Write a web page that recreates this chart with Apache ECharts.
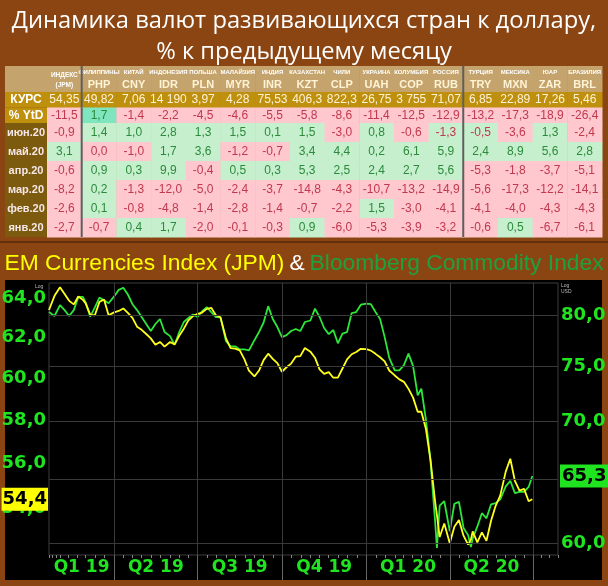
<!DOCTYPE html>
<html><head><meta charset="utf-8">
<script src="https://cdn.jsdelivr.net/npm/echarts@6.0.0/dist/echarts.min.js"></script>
<style>html,body{margin:0;padding:0;background:#8B4513;}#c{width:608px;height:586px;}</style>
</head><body><div id="c"></div>
<script>
// ---------- table data ----------
const countries = ['ИНДЕКС','ФИЛИППИНЫ','КИТАЙ','ИНДОНЕЗИЯ','ПОЛЬША','МАЛАЙЗИЯ','ИНДИЯ','КАЗАХСТАН','ЧИЛИ','УКРАИНА','КОЛУМБИЯ','РОССИЯ','ТУРЦИЯ','МЕКСИКА','ЮАР','БРАЗИЛИЯ'];
const codes = ['(JPM)','PHP','CNY','IDR','PLN','MYR','INR','KZT','CLP','UAH','COP','RUB','TRY','MXN','ZAR','BRL'];
const rates = [54.35, 49.82, 7.06, 14190, 3.97, 4.28, 75.53, 406.3, 822.3, 26.75, 3755, 71.07, 6.85, 22.89, 17.26, 5.46];
const ytd = [-11.5, 1.7, -1.4, -2.2, -4.5, -4.6, -5.5, -5.8, -8.6, -11.4, -12.5, -12.9, -13.2, -17.3, -18.9, -26.4];
const topRowLabels = ['КУРС', '% YtD'];
const monthLabels = ['июн.20','май.20','апр.20','мар.20','фев.20','янв.20'];
const jun20 = [-0.9, 1.4, 1.0, 2.8, 1.3, 1.5, 0.1, 1.5, -3.0, 0.8, -0.6, -1.3, -0.5, -3.6, 1.3, -2.4];
const may20 = [3.1, 0.0, -1.0, 1.7, 3.6, -1.2, -0.7, 3.4, 4.4, 0.2, 6.1, 5.9, 2.4, 8.9, 5.6, 2.8];
const apr20 = [-0.6, 0.9, 0.3, 9.9, -0.4, 0.5, 0.3, 5.3, 2.5, 2.4, 2.7, 5.6, -5.3, -1.8, -3.7, -5.1];
const mar20 = [-8.2, 0.2, -1.3, -12.0, -5.0, -2.4, -3.7, -14.8, -4.3, -10.7, -13.2, -14.9, -5.6, -17.3, -12.2, -14.1];
const feb20 = [-2.6, 0.1, -0.8, -4.8, -1.4, -2.8, -1.4, -0.7, -2.2, 1.5, -3.0, -4.1, -4.1, -4.0, -4.3, -4.3];
const jan20 = [-2.7, -0.7, 0.4, 1.7, -2.0, -0.1, -0.3, 0.9, -6.0, -5.3, -3.9, -3.2, -0.6, 0.5, -6.7, -6.1];
const monthRows = [jun20, may20, apr20, mar20, feb20, jan20];
// cells flagged favourable although negative (as in the source)
const favourableCells = [['июн.20','RUB'], ['июн.20','TRY']];

// ---------- line chart data ----------
const dates = ['2019-01-20','2019-01-26','2019-02-01','2019-02-06','2019-02-11','2019-02-16','2019-02-21','2019-02-26','2019-03-01','2019-03-06','2019-03-11','2019-03-16','2019-03-21','2019-03-26','2019-04-01','2019-04-06','2019-04-11','2019-04-16','2019-04-21','2019-04-26','2019-05-01','2019-05-06','2019-05-11','2019-05-16','2019-05-21','2019-05-26','2019-06-01','2019-06-06','2019-06-11','2019-06-16','2019-06-21','2019-06-26','2019-07-01','2019-07-06','2019-07-11','2019-07-16','2019-07-21','2019-07-26','2019-08-01','2019-08-06','2019-08-11','2019-08-16','2019-08-21','2019-08-26','2019-09-01','2019-09-06','2019-09-11','2019-09-16','2019-09-21','2019-09-26','2019-10-01','2019-10-06','2019-10-11','2019-10-16','2019-10-21','2019-10-26','2019-11-01','2019-11-06','2019-11-11','2019-11-16','2019-11-21','2019-11-26','2019-12-01','2019-12-06','2019-12-11','2019-12-16','2019-12-21','2019-12-26','2020-01-01','2020-01-06','2020-01-11','2020-01-16','2020-01-21','2020-01-26','2020-02-01','2020-02-06','2020-02-11','2020-02-16','2020-02-21','2020-02-26','2020-03-01','2020-03-06','2020-03-11','2020-03-16','2020-03-18','2020-03-21','2020-03-26','2020-04-01','2020-04-06','2020-04-11','2020-04-16','2020-04-21','2020-04-24','2020-04-26','2020-05-01','2020-05-06','2020-05-11','2020-05-16','2020-05-21','2020-05-26','2020-06-01','2020-06-06','2020-06-11','2020-06-16','2020-06-21','2020-06-26','2020-06-30'];
const emIndex = [63.40,64.13,64.58,64.23,63.87,63.69,64.10,63.92,63.74,63.15,
 63.13,63.82,63.94,63.13,63.28,63.35,63.48,63.25,63.00,62.55,
 62.39,62.18,61.96,61.64,61.78,61.55,61.78,61.66,62.09,62.45,
 62.87,63.09,63.20,63.27,63.46,63.51,63.13,63.02,61.96,61.47,
 61.45,61.36,60.93,60.36,60.08,60.37,60.88,61.20,60.94,60.73,
 60.31,60.53,60.71,61.05,61.08,61.48,61.30,61.00,60.43,60.21,
 60.29,60.02,60.02,60.47,60.92,61.17,61.28,61.44,61.42,61.35,
 61.19,61.02,60.82,60.37,60.13,59.94,59.82,59.48,59.06,58.39,
 58.39,57.58,56.15,54.30,53.70,52.76,53.34,52.50,53.20,53.49,
 52.82,52.44,52.65,53.00,52.53,52.96,52.60,53.46,54.11,54.56,
 55.63,56.21,55.21,54.78,54.86,54.31,54.40];
const bcomIndex = [80.3,79.9,81.0,80.5,79.9,80.5,81.85,81.85,81.26,79.83,
 80.77,81.78,81.51,81.2,81.9,82.58,82.8,82.1,81.1,80.5,
 79.8,79.1,78.4,79.1,79.6,78.3,77.9,77.05,78.3,79.3,
 79.7,80.05,79.8,80.4,80.8,80.3,79.8,79.76,77.4,76.9,
 76.9,76.6,76.6,76.5,77.5,78.3,79.25,80.9,79.6,78.8,
 77.8,78.0,78.4,78.6,78.4,79.3,79.45,80.65,79.8,78.7,
 78.1,78.5,77.2,78.15,78.3,80.2,80.3,81.05,81.15,81.1,
 80.3,79.6,77.8,75.8,74.6,74.6,75.1,76.2,75.0,72.3,
 72.9,70.1,66.55,61.65,59.62,62.9,63.25,60.9,63.05,63.2,
 61.15,60.6,59.7,60.35,61.25,62.3,61.9,63.0,63.1,63.4,
 64.45,64.9,63.9,64.0,64.0,64.4,65.3];
const leftTicks = [64, 62, 60, 58, 56, 54];
const rightTicks = [80, 75, 70, 65, 60];
const xMin = '2019-01-20', xMax = '2020-07-28';
const quarterBounds = ['2019-04-01','2019-07-01','2019-10-01','2020-01-01','2020-04-01','2020-07-01'];
const quarterLabels = ['Q1 19','Q2 19','Q3 19','Q4 19','Q1 20','Q2 20'];

// ---------- helpers ----------
const ts = s => echarts.time.parse(s).getTime();
const fmt1 = v => v.toFixed(1).replace('.', ',');
function fmtRate(v) {
  if (v >= 1000) { const s = Math.round(v).toString(); return s.slice(0, s.length - 3) + ' ' + s.slice(-3); }
  if (v >= 100) return v.toFixed(1).replace('.', ',');
  return v.toFixed(2).replace('.', ',');
}
const FONT = 'Liberation Sans';
const C = {
  header: '#C4A46C', gold: '#BE900E', goldText: '#FFF3D6', labelDark: '#7C5A0E',
  pink: '#FFC7CE', pinkText: '#C0394E', green: '#C6EFCE', greenText: '#2C8A3C', teal: '#7FE5BF',
  sep: '#5E5E5E', axisGreen: '#1FE41F', lineGreen: '#2CE63A', lineYellow: '#FFFF1E', grid: '#3A3A3A'
};

function cellBox(api) {
  const p = api.coord([api.value(0), api.value(1)]);
  const s = api.size([1, 1]);
  return { x: p[0] - s[0] / 2, y: p[1] - s[1] / 2, w: s[0], h: s[1], cx: p[0], cy: p[1] };
}
function separators(b, col) {
  if (col !== 0 && col !== 11) return [];
  return [{ type: 'line', z2: 20, shape: { x1: b.x + b.w, y1: b.y, x2: b.x + b.w, y2: b.y + b.h }, style: { stroke: C.sep, lineWidth: 2 } }];
}
function txt(text, x, y, fill, size, weight) {
  return { type: 'text', z2: 10, style: { text, x, y, align: 'center', verticalAlign: 'middle', fill, fontSize: size, fontWeight: weight || 'normal', fontFamily: FONT } };
}
function gridData(nRows) { const d = []; for (let r = 0; r < nRows; r++) for (let c = 0; c < codes.length; c++) d.push([c, r]); return d; }

function renderHeader(params, api) {
  const b = cellBox(api); const col = api.value(0);
  const ch = [{ type: 'rect', shape: { x: b.x, y: b.y, width: b.w + 0.5, height: b.h }, style: { fill: C.header } }];
  if (col === 0) {
    ch.push(txt(countries[col], b.cx, b.y + 9, '#FFFFFF', 6.5, 'bold'));
    ch.push(txt(codes[col], b.cx, b.y + 19, '#FFFFFF', 6.5, 'bold'));
  } else {
    ch.push(txt(countries[col], b.cx, b.y + 6, '#FFFFFF', 6, 'bold'));
    ch.push(txt(codes[col], b.cx, b.y + 19, C.goldText, 11, 'bold'));
  }
  return { type: 'group', children: ch.concat(separators(b, col)) };
}
function renderTop(params, api) {
  const b = cellBox(api); const col = api.value(0), row = api.value(1);
  let bg, fg, text;
  if (row === 0) { bg = C.gold; fg = C.goldText; text = fmtRate(rates[col]); }
  else { const v = ytd[col]; bg = v > 0 ? C.teal : C.pink; fg = v > 0 ? C.greenText : C.pinkText; text = fmt1(v); }
  const ch = [{ type: 'rect', shape: { x: b.x, y: b.y, width: b.w + 0.5, height: b.h + 0.5 }, style: { fill: bg } }, txt(text, b.cx, b.cy, fg, 12)];
  return { type: 'group', children: ch.concat(separators(b, col)) };
}
function renderMonths(params, api) {
  const b = cellBox(api); const col = api.value(0), row = api.value(1);
  const v = monthRows[row][col];
  const fav = favourableCells.some(f => f[0] === monthLabels[row] && f[1] === codes[col]);
  const good = v > 0 || fav;
  const ch = [{ type: 'rect', shape: { x: b.x, y: b.y, width: b.w + 0.5, height: b.h + 0.5 }, style: { fill: good ? C.green : C.pink } },
    txt(fmt1(v), b.cx, b.cy, v > 0 ? C.greenText : C.pinkText, 12)];
  return { type: 'group', children: ch.concat(separators(b, col)) };
}

function rowLabelAxis(gridIndex, data, bg, fg, h, size) {
  return {
    type: 'category', gridIndex, data, inverse: true,
    axisLine: { show: false }, axisTick: { show: false }, splitLine: { show: false },
    axisLabel: { margin: 0, interval: 0, formatter: v => '{a|' + (v || ' ') + '}',
      rich: { a: { width: 42, height: h, lineHeight: h, backgroundColor: bg, color: fg, align: 'center', fontSize: size, fontWeight: 'bold', fontFamily: FONT } } }
  };
}

const tickLabelStyle = { color: C.axisGreen, fontSize: 18, fontWeight: 'bold', fontFamily: 'DejaVu Sans' };
const emLast = emIndex[emIndex.length - 1], bcomLast = bcomIndex[bcomIndex.length - 1];
const hdrFont = { fontSize: 22.8, fontWeight: 'normal', fontFamily: 'Liberation Sans' };

const chart = echarts.init(document.getElementById('c'), null, { renderer: 'canvas' });
chart.setOption({
  backgroundColor: '#8B4513',
  animation: false,
  title: [
    { text: 'Динамика валют развивающихся стран к доллару,\n% к предыдущему месяцу', left: 'center', top: 1,
      textStyle: { color: '#FFFFFF', fontSize: 23.7, fontWeight: 'normal', lineHeight: 31, fontFamily: 'Open Sans' } },
    { text: '{y|EM Currencies Index (JPM)} {w|&} {g|Bloomberg Commodity Index}', left: 'center', top: 247,
      textStyle: { fontWeight: 'normal', rich: {
        y: Object.assign({ color: '#FFFF00' }, hdrFont),
        w: Object.assign({ color: '#FFFFFF' }, hdrFont),
        g: Object.assign({ color: '#1FA03E' }, hdrFont) } } }
  ],
  graphic: [
    { type: 'rect', z: -1, shape: { x: 5, y: 280, width: 597, height: 300 }, style: { fill: '#000000' } },
    { type: 'line', shape: { x1: 0, y1: 242, x2: 608, y2: 242 }, style: { stroke: '#3A1A05', lineWidth: 1 } },
    { type: 'text', z: 5, style: { text: 'Log', x: 35, y: 284, fill: '#BBBBBB', fontSize: 5, fontFamily: FONT } },
    { type: 'text', z: 5, style: { text: 'Log\nUSD', x: 561, y: 283, fill: '#BBBBBB', fontSize: 5, lineHeight: 6, fontFamily: FONT } }
  ],
  grid: [
    { left: 47, right: 6, top: 66, height: 26 },
    { left: 47, right: 6, top: 92, height: 31 },
    { left: 47, right: 6, top: 123, height: 114 },
    { left: 49, right: 50, top: 283, height: 272, show: true, borderColor: '#3C3C3C', borderWidth: 1, backgroundColor: 'transparent' },
    { left: 49, right: 50, top: 555, height: 25 }
  ],
  xAxis: [
    { type: 'category', gridIndex: 0, data: codes, show: false },
    { type: 'category', gridIndex: 1, data: codes, show: false },
    { type: 'category', gridIndex: 2, data: codes, show: false },
    { type: 'time', gridIndex: 3, min: ts(xMin), max: ts(xMax), minInterval: 28 * 864e5, maxInterval: 31 * 864e5,
      axisLine: { show: false }, axisLabel: { show: false }, splitLine: { show: false },
      axisTick: { show: true, length: 3, lineStyle: { color: '#888888' } },
      minorTick: { show: true, splitNumber: 3, length: 3, lineStyle: { color: '#888888' } } },
    { type: 'time', gridIndex: 4, min: ts(xMin), max: ts(xMax), show: false }
  ],
  yAxis: [
    rowLabelAxis(0, [''], C.header, '#FFFFFF', 26, 12),
    rowLabelAxis(1, topRowLabels, C.gold, '#FFFFFF', 15.5, 12),
    rowLabelAxis(2, monthLabels, C.labelDark, '#F6E8E8', 19, 11),
    { type: 'log', gridIndex: 3, min: 52, max: 64.8, show: false },
    { type: 'log', gridIndex: 3, min: 59.1, max: 83.3, position: 'right', show: false },
    { type: 'value', gridIndex: 4, min: 0, max: 1, show: false }
  ],
  series: [
    { type: 'custom', xAxisIndex: 0, yAxisIndex: 0, data: gridData(1), renderItem: renderHeader, silent: true },
    { type: 'custom', xAxisIndex: 1, yAxisIndex: 1, data: gridData(2), renderItem: renderTop, silent: true },
    { type: 'custom', xAxisIndex: 2, yAxisIndex: 2, data: gridData(6), renderItem: renderMonths, silent: true },
    { name: 'Bloomberg Commodity Index', type: 'line', xAxisIndex: 3, yAxisIndex: 4, showSymbol: false, silent: true,
      data: dates.map((d, i) => [ts(d), bcomIndex[i]]),
      lineStyle: { color: C.lineGreen, width: 1.8 }, itemStyle: { color: C.lineGreen },
      markLine: { symbol: 'none', silent: true, animation: false,
        data: rightTicks.map(v => ({ yAxis: v, lineStyle: { color: C.grid, width: 1, type: 'solid' },
            label: Object.assign({ show: true, position: 'end', distance: 3, formatter: fmt1(v) }, tickLabelStyle) }))
          .concat(quarterBounds.map(d => ({ xAxis: ts(d), lineStyle: { color: C.grid, width: 1, type: 'solid' }, label: { show: false } })))
          .concat([{ yAxis: bcomLast, lineStyle: { color: 'transparent' },
            label: { show: true, position: 'end', distance: 2, formatter: fmt1(bcomLast), color: '#000', backgroundColor: C.axisGreen,
              padding: [3, 2, 2, 2], fontSize: 18, fontWeight: 'bold', fontFamily: 'DejaVu Sans' } }]) } },
    { name: 'EM Currencies Index (JPM)', type: 'line', xAxisIndex: 3, yAxisIndex: 3, showSymbol: false, silent: true,
      data: dates.map((d, i) => [ts(d), emIndex[i]]),
      lineStyle: { color: C.lineYellow, width: 1.8 }, itemStyle: { color: C.lineYellow },
      markLine: { symbol: 'none', silent: true, animation: false,
        data: leftTicks.map(v => ({ yAxis: v, lineStyle: { color: 'transparent' },
            label: Object.assign({ show: true, position: 'start', distance: 3, formatter: fmt1(v) }, tickLabelStyle) }))
          .concat([{ yAxis: emLast, lineStyle: { color: 'transparent' },
            label: { show: true, position: 'start', distance: 1, formatter: fmt1(emLast), color: '#000', backgroundColor: '#FFFF00',
              padding: [3, 1, 2, 1], fontSize: 18, fontWeight: 'bold', fontFamily: 'DejaVu Sans' } }]) } },
    { name: 'quarters', type: 'line', xAxisIndex: 4, yAxisIndex: 5, data: [], silent: true,
      markArea: { silent: true, itemStyle: { color: 'transparent' },
        label: { show: true, position: 'inside', color: C.axisGreen, fontSize: 17, fontWeight: 'bold', fontFamily: 'DejaVu Sans' },
        data: quarterLabels.map((q, i) => [{ name: q, xAxis: ts(i === 0 ? xMin : quarterBounds[i - 1]) }, { xAxis: ts(quarterBounds[i]) }]) },
      markLine: { symbol: 'none', silent: true, label: { show: false }, lineStyle: { color: '#666666', width: 1, type: 'solid' },
        data: quarterBounds.map(d => ({ xAxis: ts(d) })) } }
  ]
});
</script></body></html>
